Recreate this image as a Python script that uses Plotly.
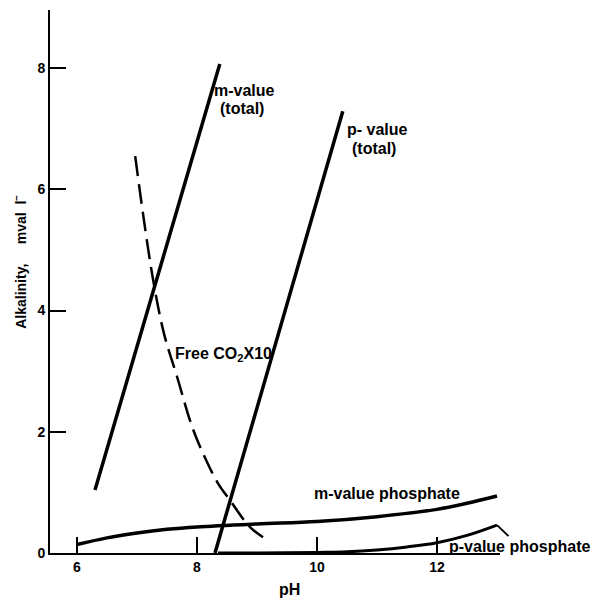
import plotly.graph_objects as go

# Alkalinity (mval/l) as a function of pH
m_total_ph = [6.3, 8.38]
m_total_alk = [1.04, 8.07]

p_total_ph = [8.3, 10.43]
p_total_alk = [0.0, 7.29]

co2_ph = [6.97, 7.1, 7.27, 7.45, 7.67, 7.92, 8.13, 8.35, 8.55, 8.88, 9.1]
co2_x10 = [6.55, 5.6, 4.5, 3.62, 2.9, 2.08, 1.58, 1.15, 0.87, 0.43, 0.26]

m_phos_ph = [6.0, 6.5, 7.0, 7.5, 8.0, 9.0, 10.0, 11.0, 12.0, 12.5, 13.0]
m_phos_alk = [0.14, 0.25, 0.33, 0.39, 0.43, 0.48, 0.52, 0.6, 0.72, 0.82, 0.94]

p_phos_ph = [8.35, 9.0, 10.0, 10.5, 11.0, 11.5, 12.0, 12.5, 13.0]
p_phos_alk = [0.0, 0.0, 0.01, 0.02, 0.05, 0.1, 0.17, 0.29, 0.46]

x_ticks = [6, 8, 10, 12]
y_ticks = [0, 2, 4, 6, 8]

FONT = "Liberation Sans, Arial, sans-serif"
INK = "black"

fig = go.Figure()

fig.add_trace(go.Scatter(x=m_total_ph, y=m_total_alk, mode="lines",
                         line=dict(color=INK, width=3.5)))
fig.add_trace(go.Scatter(x=p_total_ph, y=p_total_alk, mode="lines",
                         line=dict(color=INK, width=3.5)))
fig.add_trace(go.Scatter(x=co2_ph, y=co2_x10, mode="lines",
                         line=dict(color=INK, width=2.5, dash="20px,8px",
                                   shape="spline", smoothing=1.0)))
fig.add_trace(go.Scatter(x=m_phos_ph, y=m_phos_alk, mode="lines",
                         line=dict(color=INK, width=3.5, shape="spline",
                                   smoothing=1.0)))
fig.add_trace(go.Scatter(x=p_phos_ph, y=p_phos_alk, mode="lines",
                         line=dict(color=INK, width=3, shape="spline",
                                   smoothing=1.0)))

lab = dict(family=FONT, size=16, color=INK, weight="bold")


def label(x, y, text, **kw):
    fig.add_annotation(x=x, y=y, text=text, showarrow=False,
                       xanchor="left", yanchor="middle", font=lab, **kw)


label(8.25, 7.64, "m-value")
label(8.35, 7.34, "(total)")
label(10.47, 6.98, "p- value")
label(10.55, 6.68, "(total)")
label(7.6, 3.27, "Free CO<sub>2</sub>X10")
label(9.92, 0.99, "m-value phosphate")

# label tied to the end of the p-value phosphate curve by a leader line
fig.add_annotation(x=p_phos_ph[-1], y=p_phos_alk[-1], text="p-value phosphate",
                   showarrow=True, arrowhead=0, arrowwidth=2, arrowcolor=INK,
                   standoff=0, ax=22, ay=21, xanchor="center", yanchor="middle",
                   font=lab)

# axis titles
fig.add_annotation(xref="paper", yref="paper", x=-0.067, y=0.536,
                   xanchor="center", yanchor="middle",
                   text="Alkalinity,\u00a0\u00a0\u00a0\u00a0 mval\u00a0 l<sup>\u2212</sup>",
                   textangle=-90, showarrow=False,
                   font=dict(family=FONT, size=14, color=INK, weight="bold"))
fig.add_annotation(xref="paper", yref="paper", x=0.533, y=-0.068,
                   xanchor="center", yanchor="middle",
                   text="pH", showarrow=False,
                   font=dict(family=FONT, size=16, color=INK, weight="bold"))

axis_common = dict(showgrid=False, zeroline=False, showline=True,
                   linecolor=INK, linewidth=2, ticks="inside", ticklen=16,
                   tickwidth=1.5, tickcolor=INK,
                   tickfont=dict(family=FONT, size=14, color=INK, weight="bold"))

fig.update_xaxes(range=[5.55, 13.05], tickvals=x_ticks, **axis_common)
fig.update_yaxes(range=[0, 8.96], tickvals=y_ticks, **axis_common)

fig.update_layout(width=594, height=599, showlegend=False,
                  margin=dict(l=50, r=94, t=10, b=46),
                  paper_bgcolor="white", plot_bgcolor="white")

fig.write_html("out.html")
